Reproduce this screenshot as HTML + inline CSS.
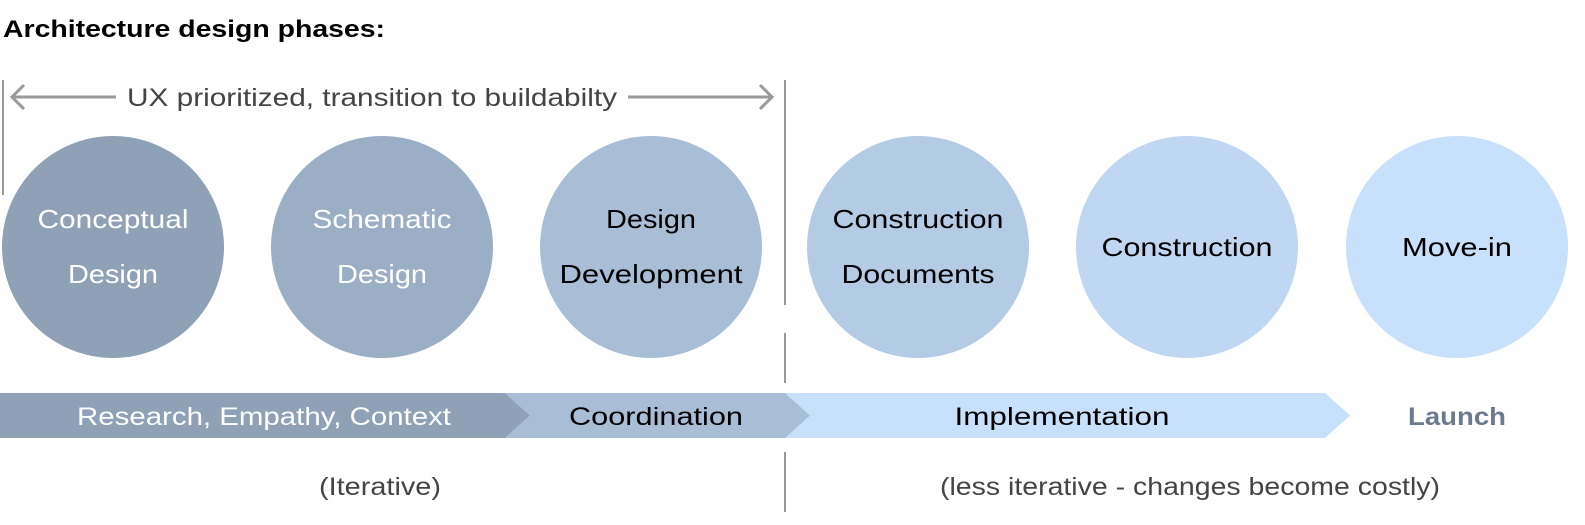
<!DOCTYPE html>
<html><head><meta charset="utf-8"><style>
body{margin:0;background:#fff;width:1585px;height:520px;overflow:hidden}
</style></head><body>
<svg width="1585" height="520" xmlns="http://www.w3.org/2000/svg" font-family="Liberation Sans, sans-serif">
<text x="3" y="37" font-size="24" font-weight="bold" fill="#000" textLength="382" lengthAdjust="spacingAndGlyphs">Architecture design phases:</text>
<g stroke="#999" stroke-width="2" fill="none">
<line x1="3" y1="80" x2="3" y2="195"/>
<line x1="785" y1="80" x2="785" y2="305"/>
<line x1="785" y1="333" x2="785" y2="383"/>
<line x1="785" y1="452" x2="785" y2="512"/>
</g>
<g stroke="#999" stroke-width="3" fill="none">
<line x1="12" y1="97" x2="116" y2="97"/>
<polyline points="24,85 12,97 24,109"/>
<line x1="628" y1="97" x2="772" y2="97"/>
<polyline points="760,85 772,97 760,109"/>
</g>
<text x="127" y="106" font-size="25" fill="#444" textLength="490" lengthAdjust="spacingAndGlyphs">UX prioritized, transition to buildabilty</text>
<circle cx="113" cy="247" r="111" fill="#8fa1b7"/>
<circle cx="382" cy="247" r="111" fill="#9aaec6"/>
<circle cx="651" cy="247" r="111" fill="#a8bed6"/>
<circle cx="918" cy="247" r="111" fill="#b3cbe5"/>
<circle cx="1187" cy="247" r="111" fill="#bfd7f2"/>
<circle cx="1457" cy="247" r="111" fill="#c7e0fb"/>
<g font-size="26" text-anchor="middle" lengthAdjust="spacingAndGlyphs">
<text x="113" y="228" fill="#fff" textLength="151" lengthAdjust="spacingAndGlyphs">Conceptual</text><text x="113" y="283" fill="#fff" textLength="90" lengthAdjust="spacingAndGlyphs">Design</text>
<text x="382" y="228" fill="#fff" textLength="139" lengthAdjust="spacingAndGlyphs">Schematic</text><text x="382" y="283" fill="#fff" textLength="90" lengthAdjust="spacingAndGlyphs">Design</text>
<text x="651" y="228" fill="#000" textLength="90" lengthAdjust="spacingAndGlyphs">Design</text><text x="651" y="283" fill="#000" textLength="183" lengthAdjust="spacingAndGlyphs">Development</text>
<text x="918" y="228" fill="#000" textLength="171" lengthAdjust="spacingAndGlyphs">Construction</text><text x="918" y="283" fill="#000" textLength="153" lengthAdjust="spacingAndGlyphs">Documents</text>
<text x="1187" y="256" fill="#000" textLength="171" lengthAdjust="spacingAndGlyphs">Construction</text>
<text x="1457" y="256" fill="#000" textLength="110" lengthAdjust="spacingAndGlyphs">Move-in</text>
</g>
<polygon points="785,393 1325,393 1350,415.5 1325,438 785,438 810,415.5" fill="#c7e0fb"/>
<polygon points="505,393 785,393 810,415.5 785,438 505,438 530,415.5" fill="#a8bed6"/>
<polygon points="0,393 505,393 530,415.5 505,438 0,438" fill="#8fa1b7"/>
<g font-size="25" text-anchor="middle">
<text x="264" y="425" fill="#fff" textLength="374" lengthAdjust="spacingAndGlyphs">Research, Empathy, Context</text>
<text x="656" y="425" fill="#000" textLength="174" lengthAdjust="spacingAndGlyphs">Coordination</text>
<text x="1062" y="425" fill="#000" textLength="215" lengthAdjust="spacingAndGlyphs">Implementation</text>
<text x="1457" y="425" fill="#6b7a8f" font-weight="bold" textLength="98" lengthAdjust="spacingAndGlyphs">Launch</text>
<text x="380" y="495" fill="#444" textLength="122" lengthAdjust="spacingAndGlyphs">(Iterative)</text>
<text x="1190" y="495" fill="#444" textLength="500" lengthAdjust="spacingAndGlyphs">(less iterative - changes become costly)</text>
</g>
</svg>
</body></html>
